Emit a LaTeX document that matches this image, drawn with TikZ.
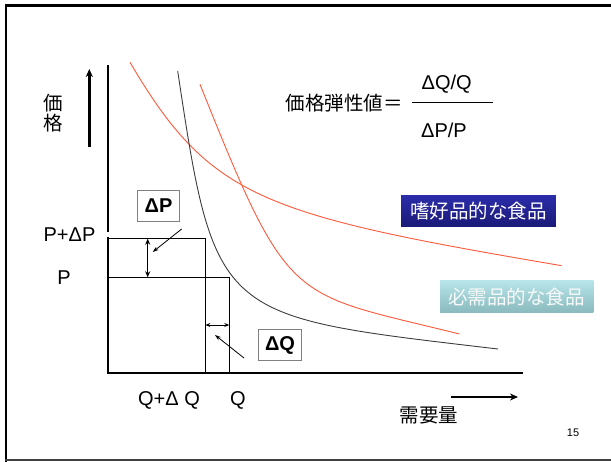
\documentclass[tikz,border=0pt]{standalone}
\usepackage{fontspec}
\setmainfont{Liberation Sans}
\newfontfamily\jp{Noto Sans CJK JP}
\usetikzlibrary{arrows.meta}
\definecolor{curvered}{RGB}{255,88,56}
\definecolor{curveblack}{RGB}{60,60,60}
\definecolor{navytop}{RGB}{44,44,170}
\definecolor{navybot}{RGB}{26,26,120}
\definecolor{tealtop}{RGB}{182,228,232}
\definecolor{tealbot}{RGB}{138,186,190}
\begin{document}
\begin{tikzpicture}[x=1pt,y=-1pt,
  lbl/.style={font=\fontsize{20}{20}\selectfont, inner sep=0pt},
  jplbl/.style={font=\jp\fontsize{19.5}{20}\selectfont, inner sep=0pt},
  axisline/.style={line width=1.4pt, black},
  boxline/.style={line width=1.4pt, black},
  redcurve/.style={line width=0.9pt, curvered},
  blackcurve/.style={line width=0.9pt, curveblack},
  deltabox/.style={draw=black!50, line width=0.9pt, inner sep=0pt,
     font=\bfseries\fontsize{20}{20}\selectfont},
  pointer/.style={line width=0.8pt, -{Stealth[length=6pt,width=4pt]}},
  bigarrow/.style={line width=2.6pt, -{Stealth[length=8pt,width=7pt]}},
  goodbox/.style={inner sep=0pt, minimum height=31.5pt, text=white,
     font=\jp\fontsize{19.5}{20}\selectfont}
]
\useasboundingbox (0,0) rectangle (611,461);
% frame
\draw[line width=2.5pt, black] (6,462) -- (6,5.5) -- (612,5.5);
\draw[line width=1.3pt, black!75] (5,460) -- (612,460);

% axes
\coordinate (O) at (108,373);
\coordinate (ytop) at (108,65);
\coordinate (gapa) at (108,231.7);
\coordinate (gapb) at (108,236.7);
\coordinate (xend) at (523,373);
\draw[axisline] (ytop) -- (gapa);
\draw[axisline] (gapb) -- (O) -- (xend);

% rectangles
\coordinate (pdp) at (108,238.7);
\coordinate (qdq) at (205.3,373);
\coordinate (p) at (108,277.3);
\coordinate (q) at (229.3,373);
\draw[boxline] (pdp) -- (205.3,238.7) -- (qdq);
\draw[boxline] (p) -- (229.3,277.3) -- (q);

% delta arrows
\coordinate (dpa) at (147.7,238.7);
\coordinate (dpb) at (147.7,277.3);
\draw[line width=1.5pt, {Stealth[length=6pt,width=5pt]}-{Stealth[length=6pt,width=5pt]}] (dpa) -- (dpb);
\coordinate (dqa) at (205.3,325);
\coordinate (dqb) at (229.3,325);
\draw[line width=1pt, {Stealth[length=5pt,width=4pt]}-{Stealth[length=5pt,width=4pt]}] (dqa) -- (dqb);

% curves
\draw[redcurve] (130,62.3) .. controls (210,198.3) and (261.7,214.7) .. (561.7,265.7);
\draw[redcurve] (200,84.3) .. controls (290,309.3) and (289.3,291.5) .. (459.3,334);
\draw[blackcurve] (177.7,71) .. controls (215.2,321) and (218,316) .. (498,349);

% delta boxes
\node[deltabox, minimum width=41.6pt, minimum height=31.4pt] (dP) at (158.5,206) {ΔP};
\node[deltabox, minimum width=43.4pt, minimum height=31.7pt] (dQ) at (280,345) {ΔQ};
\coordinate (dPtip) at (152.7,252);
\coordinate (dQtip) at (215,335);
\draw[pointer] (181.7,229) -- (dPtip);
\draw[pointer] (244,358) -- (dQtip);

% axis labels
\node[jplbl, align=center] (kakaku) at (53,113) {価\\[0pt]格};
\coordinate (uarrowbot) at (89.3,147);
\coordinate (uarrowtop) at (89.3,69);
\draw[bigarrow] (uarrowbot) -- (uarrowtop);
\node[lbl] (lpdp) at (69.5,235) {P+ΔP};
\node[lbl] (lp) at (64,278) {P};
\node[lbl] (lqdq) at (169,400) {Q+Δ Q};
\node[lbl] (lq) at (238,400) {Q};
\node[jplbl] (juyo) at (429,415) {需要量};
\coordinate (rarrowl) at (451,397);
\coordinate (rarrowr) at (518,397);
\draw[bigarrow] (rarrowl) -- (rarrowr);
\node[font=\fontsize{11}{11}\selectfont, inner sep=0pt] (pnum) at (573,433) {15};

% formula
\node[jplbl] (formula) at (344,103) {価格弾性値＝};
\node[lbl] (num) at (446.7,84) {ΔQ/Q};
\node[lbl] (den) at (444,130) {ΔP/P};
\coordinate (fracl) at (411.7,102.7);
\coordinate (fracr) at (493,102.7);
\draw[line width=1pt] (fracl) -- (fracr);

% good boxes
\node[goodbox, minimum width=154.7pt, top color=navytop, bottom color=navybot] (shiko) at (478.4,210.9) {嗜好品的な食品};
\node[goodbox, minimum width=153.3pt, top color=tealtop, bottom color=tealbot, text=white!95!gray] (hitsuju) at (516.7,296.7) {必需品的な食品};
\end{tikzpicture}
\end{document}
